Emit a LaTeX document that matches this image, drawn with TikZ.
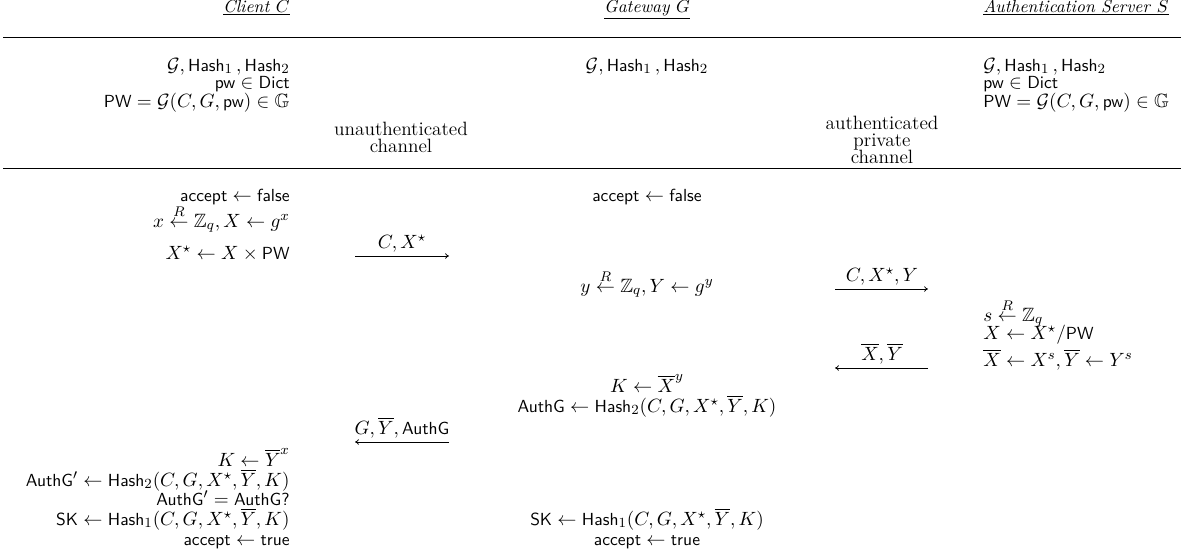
\documentclass[tikz,border=0pt]{standalone}
\usepackage{amsmath,amssymb}
\usetikzlibrary{arrows.meta}
\newcommand{\sw}[1]{\text{\fontsize{10}{12}\selectfont\sffamily #1}}
\begin{document}
\begin{tikzpicture}[x=0.571pt,y=-0.571pt,
  big/.style={font=\fontsize{11}{13}\selectfont},
  lc/.style={big,anchor=base east,inner sep=0pt},
  mc/.style={big,anchor=base,inner sep=0pt},
  rc/.style={big,anchor=base west,inner sep=0pt},
  hdr/.style={inner sep=0pt},
  rule/.style={line width=0.5pt},
  msg/.style={line width=0.45pt,-{To[length=2.2pt,width=3.2pt]}},
  msglbl/.style={big,anchor=base,inner sep=0pt}]
\useasboundingbox (0,0) rectangle (1183,556);
% headers
\node[hdr,anchor=base east] (hC) at (290,12) {\underline{\textit{Client} $C$}};
\node[hdr,anchor=base] (hG) at (647,12) {\underline{\textit{Gateway} $G$}};
\node[hdr,anchor=base west] (hS) at (983,12) {\underline{\textit{Authentication Server} $S$}};
\coordinate (r1s) at (3,37); \coordinate (r1e) at (1181,37);
\draw[rule] (r1s) -- (r1e);
% setup
\node[lc] (c1) at (290,71) {$\mathcal{G}, \sw{Hash}_1\,, \sw{Hash}_2$};
\node[lc] (c2) at (290,88) {$\sw{pw} \in \sw{Dict}$};
\node[lc] (c3) at (290,107) {$\sw{PW} = \mathcal{G}(C, G, \sw{pw}) \in \mathbb{G}$};
\node[mc] (g1) at (647,71) {$\mathcal{G}, \sw{Hash}_1\,, \sw{Hash}_2$};
\node[rc] (s1) at (983,71) {$\mathcal{G}, \sw{Hash}_1\,, \sw{Hash}_2$};
\node[rc] (s2) at (983,88) {$\sw{pw} \in \sw{Dict}$};
\node[rc] (s3) at (983,107) {$\sw{PW} = \mathcal{G}(C, G, \sw{pw}) \in \mathbb{G}$};
\node[mc] (u1) at (401,135) {unauthenticated};
\node[mc] (u2) at (401,152) {channel};
\node[mc] (p1) at (882,129) {authenticated};
\node[mc] (p2) at (882,146) {private};
\node[mc] (p3) at (882,163) {channel};
\coordinate (r2s) at (3,168); \coordinate (r2e) at (1181,168);
\draw[rule] (r2s) -- (r2e);
% protocol
\node[lc] (c4) at (290,201) {$\sw{accept} \leftarrow \sw{false}$};
\node[lc] (c5) at (290,227) {$x \stackrel{R}{\leftarrow} \mathbb{Z}_q, X \leftarrow g^x$};
\node[lc] (c6) at (290,259) {$X^\star \leftarrow X \times \sw{PW}$};
\node[mc] (g2) at (647,201) {$\sw{accept} \leftarrow \sw{false}$};
\coordinate (m1s) at (355,256); \coordinate (m1e) at (449,256);
\draw[msg] (m1s) -- (m1e);
\node[msglbl] (l1) at (402,248) {$C, X^\star$};
\node[mc] (g3) at (647,292) {$y \stackrel{R}{\leftarrow} \mathbb{Z}_q, Y \leftarrow g^y$};
\coordinate (m2s) at (835,289); \coordinate (m2e) at (928,289);
\draw[msg] (m2s) -- (m2e);
\node[msglbl] (l2) at (882,281) {$C, X^\star, Y$};
\node[rc] (s4) at (983,321) {$s \stackrel{R}{\leftarrow} \mathbb{Z}_q$};
\node[rc] (s5) at (983,339) {$X \leftarrow X^\star / \sw{PW}$};
\node[rc] (s6) at (983,366) {$\overline{X} \leftarrow X^s, \overline{Y} \leftarrow Y^s$};
\coordinate (m3s) at (928,368); \coordinate (m3e) at (835,368);
\draw[msg] (m3s) -- (m3e);
\node[msglbl] (l3) at (882,360) {$\overline{X}, \overline{Y}$};
\node[mc] (g4) at (647,392) {$K \leftarrow \overline{X}^y$};
\node[mc] (g5) at (647,412) {$\sw{AuthG} \leftarrow \sw{Hash}_2(C, G, X^\star, \overline{Y}, K)$};
\coordinate (m4s) at (449,442); \coordinate (m4e) at (355,442);
\draw[msg] (m4s) -- (m4e);
\node[msglbl] (l4) at (402,434) {$G, \overline{Y}, \sw{AuthG}$};
\node[lc] (c7) at (290,466) {$K \leftarrow \overline{Y}^x$};
\node[lc] (c8) at (290,486) {$\sw{AuthG}' \leftarrow \sw{Hash}_2(C, G, X^\star, \overline{Y}, K)$};
\node[lc] (c9) at (290,505) {$\sw{AuthG}' = \sw{AuthG?}$};
\node[lc] (c10) at (290,525) {$\sw{SK} \leftarrow \sw{Hash}_1(C, G, X^\star, \overline{Y}, K)$};
\node[lc] (c11) at (290,545) {$\sw{accept} \leftarrow \sw{true}$};
\node[mc] (g6) at (647,525) {$\sw{SK} \leftarrow \sw{Hash}_1(C, G, X^\star, \overline{Y}, K)$};
\node[mc] (g7) at (647,545) {$\sw{accept} \leftarrow \sw{true}$};
\end{tikzpicture}
\end{document}
